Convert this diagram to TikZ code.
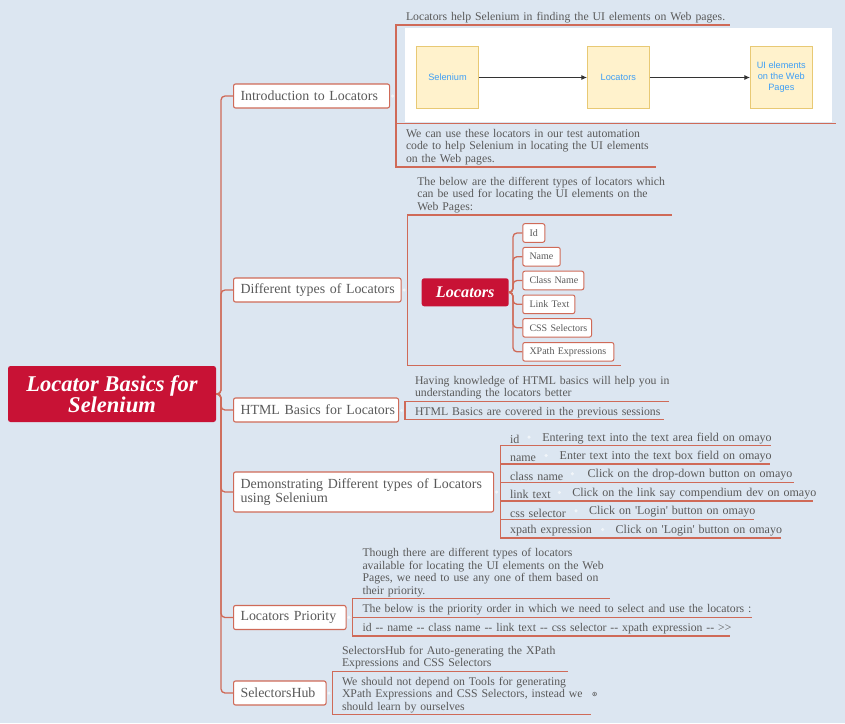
\documentclass[tikz,border=0pt]{standalone}
\usepackage{fontspec}
\setmainfont{Liberation Serif}
\newfontfamily\boxfont{Liberation Sans}
\usetikzlibrary{arrows.meta}
\usepackage{xcolor}
\definecolor{paper}{HTML}{DCE6F1}
\definecolor{crimson}{HTML}{C81235}
\definecolor{branchred}{HTML}{CF6A58}
\definecolor{inkgrey}{HTML}{5A5A5A}
\definecolor{boxfill}{HTML}{FFF2CC}
\definecolor{boxline}{HTML}{E8C974}
\definecolor{boxtext}{HTML}{3F9FF5}

\begin{document}
\begin{tikzpicture}
    \tikzset{
        x=1pt,
        y=-1pt,
        root/.style={rectangle,rounded corners=2.5pt,fill=crimson,text=white,align=center,
            font=\fontsize{22.5}{20.5}\selectfont\bfseries\itshape,inner sep=0pt},
        topic/.style={rectangle,rounded corners=2pt,fill=white,draw=branchred,line width=1.1pt,anchor=west,
            align=left,inner xsep=7pt,inner ysep=0pt,minimum height=24pt,text=inkgrey,
            font=\fontsize{13.9}{14.7}\selectfont},
        item/.style={rectangle,rounded corners=2pt,fill=white,draw=branchred,line width=1pt,anchor=west,
            align=left,inner xsep=6.7pt,inner ysep=0pt,minimum height=18.6pt,text=inkgrey,
            font=\fontsize{10}{12}\selectfont},
        leaf/.style={rectangle,anchor=south west,align=left,text width=400pt,inner xsep=0pt,inner ysep=2pt,
            outer sep=0pt,text=inkgrey,font=\fontsize{11.75}{12.5}\selectfont},
        demoleaf/.style={leaf,text width=300pt,font=\fontsize{12}{12.5}\selectfont},
        fold/.style={circle,fill=white,fill opacity=0.6,inner sep=0pt,minimum size=3.5pt},
        imgbox/.style={rectangle,fill=boxfill,draw=boxline,line width=0.8pt,align=center,text=boxtext,
            minimum width=62pt,minimum height=61.7pt,inner sep=1pt,
            font=\boxfont\fontsize{9.2}{11}\selectfont},
        branch/.style={draw=branchred,line width=1.3pt},
        curved/.style={branch,rounded corners=4pt},
    }
    \useasboundingbox (0,0) rectangle (845,723);
    \fill[paper] (0,0) rectangle (845,723);
    % central topic
    \node[root,minimum width=208pt,minimum height=56pt] (root) at (112,394)
        {Locator Basics for\\Selenium};
    \node[topic,text width=142pt] (intro) at (233,96) {\mbox{Introduction to Locators}};
    \node[topic,text width=153.5pt] (diff) at (233,290) {\mbox{Different types of Locators}};
    \node[topic,text width=151pt] (html) at (233,410) {\mbox{HTML Basics for Locators}};
    \node[topic,text width=246pt,minimum height=40pt] (demo) at (233,492)
        {\mbox{Demonstrating Different types of Locators}\\using Selenium};
    \node[topic,text width=98.5pt] (prio) at (233,617.5) {\mbox{Locators Priority}};
    \node[topic,text width=78.5pt] (hub) at (233,693) {\mbox{SelectorsHub}};
    \coordinate (trunk) at (221,394);
    \foreach \t in {intro,diff,html,demo,prio,hub}
        \draw[curved] (root.east) -- (trunk) |- (\t.west);
    % fold marks and brackets
    \foreach \n/\fx/\sx/\sy in {
        intro/392.5/396/96,
        diff/404/407.5/290,
        html/401.7/405/410.5,
        demo/496.7/500.3/492,
        prio/349/352.5/617.3,
        hub/329/332.5/693
    }{
        \node[fold] (f-\n) at (\fx,\sy) {};
        \coordinate (s-\n) at (\sx,\sy);
    }
    % leaves
    \foreach \n/\s/\xtxt/\xend/\yend/\txt in {
        intro1/intro/406/729.6/25/{Locators help Selenium in finding the UI elements on Web pages.},
        intro3/intro/406/656.3/167/{We can use these locators in our test automation\\code to help Selenium in locating the UI elements\\on the Web pages.},
        diff1/diff/417.3/671.7/215/{The below are the different types of locators which\\can be used for locating the UI elements on the\\Web Pages:},
        html1/html/415/668.7/401.3/{Having knowledge of HTML basics will help you in\\understanding the locators better},
        html2/html/415/664.3/419.7/{HTML Basics are covered in the previous sessions},
        prio1/prio/362.5/610/598.7/{Though there are different types of locators\\available for locating the UI elements on the Web\\Pages, we need to use any one of them based on\\their priority.},
        prio2/prio/362.5/751.8/617.3/{The below is the priority order in which we need to select and use the locators :},
        prio3/prio/362.5/729.6/636/{id -{}- name -{}- class name -{}- link text -{}- css selector -{}- xpath expression -{}- >{}>},
        hub1/hub/342/567.5/671.3/{SelectorsHub for Auto-generating the XPath\\Expressions and CSS Selectors},
        hub2/hub/342/590.7/714.7/{We should not depend on Tools for generating\\XPath Expressions and CSS Selectors, instead we\\should learn by ourselves}
    }{
        \coordinate (\n-end) at (\xend,\yend);
        \node[leaf] (\n) at (\xtxt,\yend) {\txt};
        \draw[branch] (s-\s) |- (\n-end);
    }
    % locator examples
    \foreach \n/\key/\dx/\fx/\xend/\yend/\txt in {
        d1/id/542.3/529/771/445.7/{Entering text into the text area field on omayo},
        d2/name/559.7/546/770/464/{Enter text into the text box field on omayo},
        d3/class name/587.7/572.3/793.7/482.3/{Click on the drop-down button on omayo},
        d4/link text/572.3/559.3/812.7/501/{Click on the link say compendium dev on omayo},
        d5/css selector/589/576/754.3/519.3/{Click on \textquotesingle Login\textquotesingle{} button on omayo},
        d6/xpath expression/615.7/602.7/781.3/538/{Click on \textquotesingle Login\textquotesingle{} button on omayo}
    }{
        \coordinate (\n-end) at (\xend,\yend);
        \node[demoleaf] (\n) at (510,\yend) {\key};
        \node[demoleaf] (\n-t) at (\dx,\yend) {\txt};
        \node[fold] (\n-f) at (\fx,\yend-8.5) {};
        \draw[branch] (s-demo) |- (\n-end);
    }
    % picture under the first leaf
    \node[rectangle,fill=white,anchor=north west,minimum width=427pt,minimum height=94pt,inner sep=0pt]
        (introimg) at (405,28) {};
    \coordinate (imgend) at (836,123.5);
    \draw[branch] (s-intro) |- (imgend);
    \node[imgbox] (sel) at (447.5,77.5) {Selenium};
    \node[imgbox] (loc) at (618.3,77.5) {Locators};
    \node[imgbox] (ui) at (781.3,77.5) {UI elements\\on the Web\\Pages};
    \draw[-{Latex[length=5.5pt,width=5pt]},line width=0.7pt,black!80] (sel) -- (loc);
    \draw[-{Latex[length=5.5pt,width=5pt]},line width=0.7pt,black!80] (loc) -- (ui);
    % locator types
    \coordinate (mapend) at (621,365.3);
    \draw[branch] (s-diff) |- (mapend);
    \node[root,minimum width=87pt,minimum height=28pt,font=\fontsize{16.2}{17}\selectfont\bfseries\itshape]
        (types) at (465.2,292.3) {Locators};
    \coordinate (subtrunk) at (513,292.3);
    \foreach \n/\w/\y/\txt in {
        tid/8.6/233/Id,
        tname/24/256.7/Name,
        tclass/47.6/280.5/Class Name,
        tlink/38.6/304.3/Link Text,
        tcss/55.3/327.8/CSS Selectors,
        txpath/77.6/351.8/XPath Expressions
    }{
        \node[item,text width=\w pt] (\n) at (522.3,\y) {\mbox{\txt}};
        \draw[curved] (types.east) -- (subtrunk) |- (\n.west);
    }
    % closed fold mark
    \draw[inkgrey,line width=0.4pt] (594.6,694) circle (2pt)
        (593.4,694) -- (595.8,694) (594.6,692.8) -- (594.6,695.2);
\end{tikzpicture}
\end{document}
